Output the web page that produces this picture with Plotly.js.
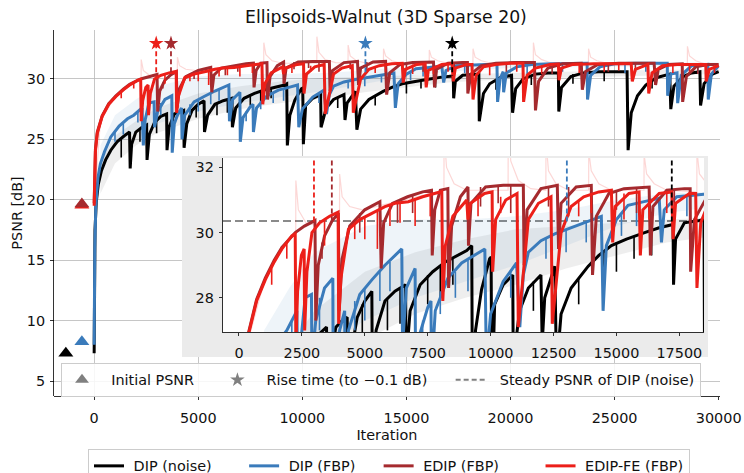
<!DOCTYPE html>
<html>
<head>
<meta charset="utf-8">
<script src="https://cdn.plot.ly/plotly-3.0.1.min.js"></script>
<style>
html,body{margin:0;padding:0;background:#ffffff;}
#chart{width:744px;height:473px;}
</style>
</head>
<body>
<div id="chart"></div>
<script>
// ---------------- data ----------------
const seriesNames = ['DIP (noise)', 'DIP (FBP)', 'EDIP (FBP)', 'EDIP-FE (FBP)'];

// [iteration, PSNR dB]
const dipNoise = [[0,7.3],[15,14.0],[40,17.5],[100,19.8],[200,21.3],[350,22.4],[550,23.3],[800,24.1],[1100,24.8],[1450,25.3],[1700,25.6],[1730,22.6],[1800,24.6],[2000,25.6],[2300,26.0],[2520,26.2],[2540,23.3],[2650,25.4],[2900,26.4],[3200,26.9],[3480,27.1],[3500,24.1],[3600,26.0],[3850,27.1],[4100,27.3],[4300,27.4],[4320,24.3],[4450,26.3],[4700,27.4],[5000,27.9],[5280,28.2],[5300,25.6],[5450,27.0],[5800,27.9],[6200,28.2],[6620,28.4],[6640,26.0],[6800,27.6],[7200,28.4],[7700,28.8],[8200,29.1],[8700,29.3],[9050,29.45],[9250,29.6],[9280,24.5],[9400,27.0],[9640,28.25],[9960,29.2],[10020,29.25],[10050,24.6],[10160,27.8],[10500,28.4],[10880,28.7],[10900,26.0],[11150,27.6],[11500,28.3],[12000,28.7],[12050,26.6],[12150,28.0],[12550,28.97],[12620,25.8],[12800,27.5],[13200,28.3],[13880,28.97],[14300,29.3],[14800,29.6],[15400,29.8],[16120,30.0],[16700,30.15],[17250,30.25],[17270,28.4],[17350,29.8],[17700,30.3],[18300,30.37],[18480,30.4],[18500,26.5],[18700,28.8],[19000,29.6],[19500,30.1],[20050,30.3],[20100,27.2],[20250,29.2],[20600,30.0],[21200,30.4],[21800,30.5],[22300,30.5],[22320,27.3],[22450,29.3],[22900,30.2],[23500,30.5],[24200,30.6],[24800,30.6],[25600,30.6],[25650,24.1],[25800,27.2],[26100,28.6],[26500,29.5],[27000,30.1],[27650,30.4],[27700,27.5],[27850,29.4],[28300,30.2],[28700,30.5],[29100,30.6],[29130,27.8],[29300,29.6],[29700,30.4],[30000,30.6]];

const dipFbp = [[0,8.0],[10,12.0],[30,16.0],[80,19.5],[180,21.8],[300,23.0],[500,24.0],[800,25.2],[1200,26.1],[1600,26.7],[1900,27.0],[2300,27.6],[2360,24.5],[2450,26.6],[2630,28.0],[2880,28.1],[2900,26.0],[3050,27.3],[3400,28.3],[3730,28.6],[3750,23.9],[3850,26.3],[4000,27.0],[4200,27.6],[4220,25.0],[4350,27.0],[4800,28.1],[5280,28.55],[5800,29.0],[6470,29.5],[6500,26.5],[6650,28.3],[7000,28.9],[7020,24.8],[7150,26.8],[7500,27.7],[7630,27.9],[7650,25.6],[7800,27.6],[8300,28.6],[8850,29.07],[9350,29.3],[9770,29.5],[9830,26.0],[10000,27.5],[10500,28.5],[11030,29.07],[11160,27.1],[11300,28.7],[11500,29.4],[12000,29.75],[12550,29.96],[13480,30.22],[14400,30.5],[14470,27.6],[14600,29.6],[15000,30.4],[15460,30.84],[16100,30.95],[16700,31.05],[16790,29.7],[16900,30.7],[17400,31.1],[18110,31.16],[18800,31.2],[19350,31.2],[19380,28.1],[19500,30.0],[19650,30.6],[19670,28.9],[19800,30.5],[20300,31.0],[21000,31.2],[22000,31.25],[23000,31.3],[23680,31.3],[23700,28.3],[23850,30.3],[24300,31.0],[25000,31.25],[26000,31.3],[27000,31.3],[27530,31.3],[27550,28.6],[27700,30.4],[28000,30.5],[28030,28.0],[28200,30.3],[28700,31.1],[29480,31.2],[29500,28.3],[29650,30.4],[30000,31.1]];

const edipFbp = [[0,19.7],[20,22.5],[60,24.2],[150,25.6],[385,26.95],[700,27.95],[1045,28.6],[1400,29.15],[1706,29.55],[2235,30.0],[2600,30.2],[3020,30.37],[3050,27.3],[3150,29.0],[3400,29.9],[3690,30.35],[3950,30.6],[3980,27.6],[4100,29.2],[4400,30.2],[5000,30.7],[5600,30.95],[5650,28.9],[5750,30.3],[6100,30.9],[6700,31.1],[7300,31.25],[7650,31.3],[7680,29.3],[7780,30.7],[8000,31.3],[8300,31.35],[8330,28.3],[8450,30.2],[8800,31.1],[9100,31.4],[9120,29.6],[9220,30.9],[9800,31.4],[10500,31.45],[11300,31.45],[11330,29.0],[11450,30.7],[12000,31.35],[12650,31.45],[12700,29.5],[12800,30.9],[13400,31.4],[14000,31.45],[14050,28.7],[14200,30.5],[14700,31.2],[15300,31.35],[16300,31.4],[16350,29.3],[16450,30.8],[17000,31.3],[17700,31.35],[17930,31.35],[17950,28.8],[18100,30.4],[18600,31.1],[19300,31.3],[20200,31.35],[21150,31.35],[21200,27.4],[21350,29.8],[21800,30.9],[22500,31.25],[23400,31.3],[23450,29.1],[23600,30.6],[24200,31.2],[25200,31.3],[26900,31.3],[26970,29.5],[27100,30.8],[27600,31.2],[28250,31.25],[28270,28.1],[28450,30.2],[28900,31.0],[29500,31.2],[30000,31.2]];

const edipFeFbp = [[0,19.5],[20,22.3],[60,24.0],[150,25.5],[385,26.9],[700,27.9],[1045,28.55],[1400,29.1],[1706,29.5],[2100,29.9],[2235,29.96],[2260,26.5],[2330,28.2],[2480,29.3],[2590,29.5],[2610,27.0],[2700,28.8],[2900,30.0],[3200,30.3],[3600,30.5],[3940,30.63],[3960,27.2],[4050,28.6],[4350,30.1],[4800,30.4],[5410,30.63],[5800,30.8],[6200,30.9],[6730,30.95],[7300,31.1],[8060,31.26],[8100,27.9],[8200,29.6],[8500,30.5],[9050,31.0],[9100,30.4],[9200,30.9],[9760,31.2],[10060,31.25],[10080,28.8],[10200,30.4],[10600,31.0],[11050,31.2],[11100,27.1],[11270,28.5],[11500,30.4],[11900,30.9],[12400,31.1],[12450,27.2],[12600,28.5],[12800,30.0],[13200,30.8],[13700,31.1],[14300,31.25],[14800,31.3],[14850,29.7],[14950,30.8],[15500,31.2],[15900,31.25],[15950,29.3],[16050,30.7],[16700,31.2],[17200,31.25],[17250,29.8],[17350,30.9],[17900,31.2],[18150,31.2],[18200,28.3],[18350,30.3],[18700,31.0],[19300,31.2],[20000,31.3],[20600,31.3],[20630,28.1],[20800,30.3],[21200,30.9],[21900,31.2],[22300,31.25],[22330,29.9],[22450,30.9],[23000,31.2],[24000,31.25],[25000,31.25],[25800,31.25],[25850,29.8],[26000,30.8],[26600,31.2],[26640,28.8],[26800,30.5],[27300,31.1],[28000,31.2],[29380,31.2],[29400,29.8],[29550,30.8],[30000,31.1]];

// short downward spikes on each curve: [iteration, top, bottom]
const dipNoiseSpikes = [[1300,25.0,23.5],[2200,25.9,24.8],[3000,26.6,25.5],[3800,27.0,26.0],[4900,27.8,26.8],[5900,28.0,27.0],[6400,28.3,27.2],[7000,28.3,27.4],[7500,28.7,27.8],[8000,29.0,28.0],[8500,29.2,28.4],[11700,28.5,27.6],[13500,28.6,27.8],[14500,29.4,28.6],[15000,29.7,28.8],[15700,29.9,29.2],[16400,30.1,29.3],[19300,30.0,29.1],[21000,30.3,29.5],[23000,30.4,29.6],[24500,30.6,29.8],[26800,30.0,29.2],[28000,30.0,29.3],[29500,30.3,29.4]];
const dipFbpSpikes = [[1000,25.7,24.8],[1400,26.4,25.4],[2100,27.3,26.4],[3200,28.0,27.0],[4600,27.9,27.0],[5000,28.3,27.3],[5600,28.85,27.9],[6000,29.1,28.2],[7300,27.3,26.5],[8000,28.2,27.5],[8600,28.8,28.0],[9100,29.2,28.2],[10800,28.8,28.0],[12200,29.85,29.2],[13000,30.1,29.4],[13800,30.3,29.7],[15200,30.6,29.9],[15800,30.9,30.2],[17800,31.1,30.5],[20800,31.15,30.4],[22500,31.25,30.6],[25500,31.25,30.5],[26500,31.3,30.6],[29000,31.15,30.4]];
const edipFbpSpikes = [[3300,29.7,29.2],[4800,30.6,30.0],[6300,31.0,30.3],[6900,31.15,30.6],[9600,31.4,30.8],[10300,31.45,30.9],[10800,31.45,30.6],[12300,31.4,30.8],[13100,31.4,30.5],[15000,31.3,30.7],[15800,31.35,30.6],[17300,31.3,30.7],[19800,31.3,30.6],[22000,31.1,30.4],[24700,31.25,30.6],[26000,31.3,30.6],[29000,31.05,30.4]];
const edipFeFbpSpikes = [[1300,28.9,28.4],[1900,29.7,29.2],[3400,30.4,29.6],[4600,30.3,29.8],[5000,30.5,29.8],[5500,30.65,29.5],[6000,30.85,30.2],[6400,30.9,30.3],[7000,31.0,30.2],[7600,31.15,30.5],[9500,31.15,30.5],[10400,31.1,30.6],[13500,31.0,30.5],[14000,31.2,30.6],[15300,31.2,30.4],[16300,31.0,30.4],[17000,31.2,30.6],[19000,31.2,30.3],[20300,31.3,30.6],[21500,31.0,30.4],[23300,31.2,30.5],[24500,31.25,30.6],[25200,31.25,30.7],[27800,31.2,30.5],[28600,31.2,30.6],[29800,31.15,30.5]];

// faint individual-run spikes of EDIP-FE
const edipFeFaint = [[0,19.5],[300,26.5],[1000,28.5],[1800,29.6],[2255,30.0],[2260,31.6],[2360,30.7],[2660,30.3],[3160,30.2],[3600,30.5],[3995,30.6],[4000,31.8],[4100,31.1],[4400,30.8],[4900,30.7],[6000,30.9],[8145,31.3],[8150,33.0],[8250,32.0],[8550,31.5],[9050,31.3],[10000,31.3],[10695,31.3],[10700,33.5],[10800,32.2],[11100,31.6],[11600,31.35],[12195,31.3],[12200,32.8],[12300,31.9],[12600,31.5],[13100,31.3],[13895,31.3],[13900,32.5],[14000,31.9],[14300,31.5],[14800,31.3],[16095,31.3],[16100,32.4],[16200,31.8],[16500,31.5],[17000,31.3],[18195,31.25],[18200,32.5],[18300,31.8],[18600,31.5],[19100,31.3],[21095,31.3],[21100,33.0],[21200,32.0],[21500,31.6],[22000,31.3],[23745,31.3],[23750,32.5],[23850,31.8],[24150,31.5],[24650,31.3],[28495,31.2],[28500,32.7],[28600,31.9],[28900,31.5],[29400,31.2],[30000,31.2]];

// spread bands of the DIP runs
const bandIter       = [300, 1000, 2000, 3000, 5000, 7000, 9000, 11000, 13000, 15000, 17000, 20000, 25000, 30000];
const dipNoiseBandLo = [20.5, 23.0, 24.5, 25.5, 26.7, 27.5, 28.0, 28.4, 28.9, 29.3, 29.7, 30.0, 30.2, 30.4];
const dipNoiseBandHi = [23.2, 25.3, 26.5, 27.6, 28.8, 29.4, 29.8, 30.1, 30.2, 30.3, 30.4, 30.5, 30.7, 30.8];
const dipFbpBandLo   = [22.0, 24.5, 25.6, 26.3, 27.3, 28.0, 28.5, 29.0, 29.6, 30.2, 30.6, 30.9, 31.0, 31.0];
const dipFbpBandHi   = [24.5, 27.0, 28.3, 29.4, 30.2, 30.4, 30.4, 30.5, 30.7, 31.0, 31.2, 31.3, 31.35, 31.35];

const initialPsnr = [7.29, 8.25, 19.65, 19.55];   // per series
const riseTime    = [17200, 13030, 3690, 2980];   // per series
const steadyPsnr  = 30.36;                        // steady PSNR of DIP (noise)
const riseTol     = 0.1;

const mainXTicks  = [0, 5000, 10000, 15000, 20000, 25000, 30000];
const mainYTicks  = [5, 10, 15, 20, 25, 30];
const insetXTicks = [0, 2500, 5000, 7500, 10000, 12500, 15000, 17500];
const insetYTicks = [28, 30, 32];

// ---------------- styling ----------------
const FONT = 'DejaVu Sans, Verdana, sans-serif';
const seriesColors = ['#000000', '#3a7bbb', '#a52a2e', '#ec1f19'];
const NB = '\u00a0';
const legendTrail = [6, 4, 8, 0];
const triangleX = [-1360, -590, -590, -590];
const starY = 32.95;
const mainXRange = [-1915, 30040];
const mainYRange = [3.76, 34.05];
const insetXRange = [-635, 18480];
const insetYRange = [26.95, 32.29];

const xs = p => p.map(d => d[0]);
const ys = p => p.map(d => d[1]);
const spikeX = s => s.flatMap(d => [d[0], d[0], null]);
const spikeY = s => s.flatMap(d => [d[1], d[2], null]);
const seriesData = [dipNoise, dipFbp, edipFbp, edipFeFbp];
const seriesSpikes = [dipNoiseSpikes, dipFbpSpikes, edipFbpSpikes, edipFeFbpSpikes];

const traces = [];
function addPanel(xa, ya, isMain) {
  const base = {type: 'scatter', xaxis: xa, yaxis: ya, showlegend: false, hoverinfo: 'skip'};
  // bands
  traces.push(Object.assign({}, base, {mode: 'lines', x: bandIter, y: dipNoiseBandLo, line: {width: 0, color: 'rgba(0,0,0,0)'}}));
  traces.push(Object.assign({}, base, {mode: 'lines', x: bandIter, y: dipNoiseBandHi, line: {width: 0, color: 'rgba(0,0,0,0)'}, fill: 'tonexty', fillcolor: 'rgba(0,0,0,0.065)'}));
  traces.push(Object.assign({}, base, {mode: 'lines', x: bandIter, y: dipFbpBandLo, line: {width: 0, color: 'rgba(0,0,0,0)'}}));
  traces.push(Object.assign({}, base, {mode: 'lines', x: bandIter, y: dipFbpBandHi, line: {width: 0, color: 'rgba(0,0,0,0)'}, fill: 'tonexty', fillcolor: 'rgba(58,123,187,0.085)'}));
  // faint runs
  traces.push(Object.assign({}, base, {mode: 'lines', x: xs(edipFeFaint), y: ys(edipFeFaint), line: {width: 1.2, color: 'rgba(236,31,25,0.18)'}}));
  // main curves with their short spikes
  seriesData.forEach((s, i) => {
    traces.push(Object.assign({}, base, {
      mode: 'lines', x: xs(s), y: ys(s), name: NB + seriesNames[i] + NB.repeat(legendTrail[i]),
      line: {width: 3, color: seriesColors[i]},
      showlegend: isMain, legend: 'legend2'
    }));
    traces.push(Object.assign({}, base, {
      mode: 'lines', x: spikeX(seriesSpikes[i]), y: spikeY(seriesSpikes[i]),
      line: {width: 1.6, color: seriesColors[i]}, connectgaps: false
    }));
  });
  // rise-time markers (dashed verticals)
  riseTime.forEach((t, i) => {
    traces.push(Object.assign({}, base, {
      mode: 'lines', x: [t, t], y: [starY, steadyPsnr - riseTol],
      line: {width: 1.8, color: seriesColors[i], dash: '5px,3px'}
    }));
  });
  if (isMain) {
    traces.push(Object.assign({}, base, {
      mode: 'markers', x: riseTime, y: riseTime.map(() => starY),
      marker: {symbol: 'star', size: 11, color: seriesColors, line: {width: 0}}
    }));
    const order = [0, 1, 3, 2];
    traces.push(Object.assign({}, base, {
      mode: 'markers', x: order.map(i => triangleX[i]), y: order.map(i => initialPsnr[i]),
      marker: {symbol: 'triangle-up', size: 13, color: order.map(i => seriesColors[i]), line: {width: 0}}
    }));
    // legend entries (generic gray keys)
    traces.push({type: 'scatter', mode: 'markers', x: [null], y: [null], xaxis: xa, yaxis: ya, name: NB + NB + 'Initial PSNR' + NB.repeat(4),
      marker: {symbol: 'triangle-up', size: 12, color: '#808080'}, legend: 'legend', hoverinfo: 'skip'});
    traces.push({type: 'scatter', mode: 'markers', x: [null], y: [null], xaxis: xa, yaxis: ya, name: NB + NB + 'Rise time (to \u22120.1 dB)' + NB.repeat(4),
      marker: {symbol: 'star', size: 11, color: '#808080'}, legend: 'legend', hoverinfo: 'skip'});
    traces.push({type: 'scatter', mode: 'lines', x: [null], y: [null], xaxis: xa, yaxis: ya, name: NB + NB + 'Steady PSNR of DIP (noise)',
      line: {width: 2, color: '#808080', dash: '5px,3px'}, legend: 'legend', hoverinfo: 'skip'});
  }
}

addPanel('x', 'y', true);
// frame subplot for the inset background
traces.push({type: 'scatter', mode: 'markers', x: [null], y: [null], xaxis: 'x2', yaxis: 'y2', showlegend: false, hoverinfo: 'skip'});
addPanel('x3', 'y3', false);

const axisCommon = {
  zeroline: false, showline: true, linecolor: '#000', linewidth: 0.8,
  ticks: 'outside', ticklen: 3.5, tickwidth: 0.8, tickcolor: '#000',
  tickfont: {size: 14.4, color: '#111'}, tickformat: 'd', fixedrange: true
};

const layout = {
  width: 744, height: 473,
  margin: {l: 0, r: 0, t: 0, b: 0, autoexpand: false},
  paper_bgcolor: '#ffffff', plot_bgcolor: '#ffffff',
  font: {family: FONT, size: 14.4, color: '#111'},
  showlegend: true,
  title: {text: 'Ellipsoids-Walnut (3D Sparse 20)', font: {size: 17.3, color: '#111'},
          x: 386 / 744, xanchor: 'center', xref: 'paper', y: 1 - 17 / 473, yanchor: 'middle', yref: 'container'},
  xaxis: Object.assign({}, axisCommon, {
    domain: [54.3 / 744, 719.5 / 744], range: mainXRange, anchor: 'y',
    tickmode: 'array', tickvals: mainXTicks, ticklabelstandoff: 5,
    showgrid: true, gridcolor: '#b8b8b8', gridwidth: 0.8,
    title: {text: 'Iteration', standoff: 5, font: {size: 14.4}}
  }),
  yaxis: Object.assign({}, axisCommon, {
    domain: [1 - 396 / 473, 1 - 30 / 473], range: mainYRange, anchor: 'x',
    tickmode: 'array', tickvals: mainYTicks, ticklabelstandoff: 2,
    showgrid: true, gridcolor: '#b8b8b8', gridwidth: 0.8,
    title: {text: 'PSNR [dB]', standoff: 0, font: {size: 14.4}}
  }),
  xaxis2: {domain: [182 / 744, 708 / 744], range: [0, 1], anchor: 'y2', visible: false, fixedrange: true},
  yaxis2: {domain: [1 - 357 / 473, 1 - 156 / 473], range: [0, 1], anchor: 'x2', visible: false, fixedrange: true},
  xaxis3: Object.assign({}, axisCommon, {
    domain: [223 / 744, 704 / 744], range: insetXRange, anchor: 'y3',
    tickmode: 'array', tickvals: insetXTicks, showgrid: false, ticklabelstandoff: 4
  }),
  yaxis3: Object.assign({}, axisCommon, {
    domain: [1 - 332 / 473, 1 - 158 / 473], range: insetYRange, anchor: 'x3',
    tickmode: 'array', tickvals: insetYTicks, showgrid: false, ticklabelstandoff: 2
  }),
  shapes: [
    {type: 'rect', xref: 'x2', yref: 'y2', x0: 0, x1: 1, y0: 0, y1: 1, fillcolor: '#ebebeb', line: {width: 0}, layer: 'below'},
    {type: 'line', xref: 'x3', yref: 'y3', x0: insetXRange[0], x1: insetXRange[1], y0: steadyPsnr, y1: steadyPsnr,
     line: {color: '#8a8a8a', width: 2, dash: '8px,4px'}, layer: 'below'}
  ],
  legend: {
    orientation: 'h', x: 61 / 744, y: 1 - 363 / 473, xanchor: 'left', yanchor: 'top', xref: 'paper', yref: 'paper',
    bgcolor: 'rgba(255,255,255,0.85)', bordercolor: '#cccccc', borderwidth: 1,
    font: {size: 14.4, color: '#111'}, traceorder: 'normal'
  },
  legend2: {
    orientation: 'h', x: 88 / 744, y: 1 - 449 / 473, xanchor: 'left', yanchor: 'top', xref: 'paper', yref: 'paper',
    bgcolor: 'rgba(255,255,255,0.85)', bordercolor: '#cccccc', borderwidth: 1,
    font: {size: 14.4, color: '#111'}, traceorder: 'normal'
  }
};

Plotly.newPlot('chart', traces, layout, {staticPlot: true, displayModeBar: false});
</script>
</body>
</html>
